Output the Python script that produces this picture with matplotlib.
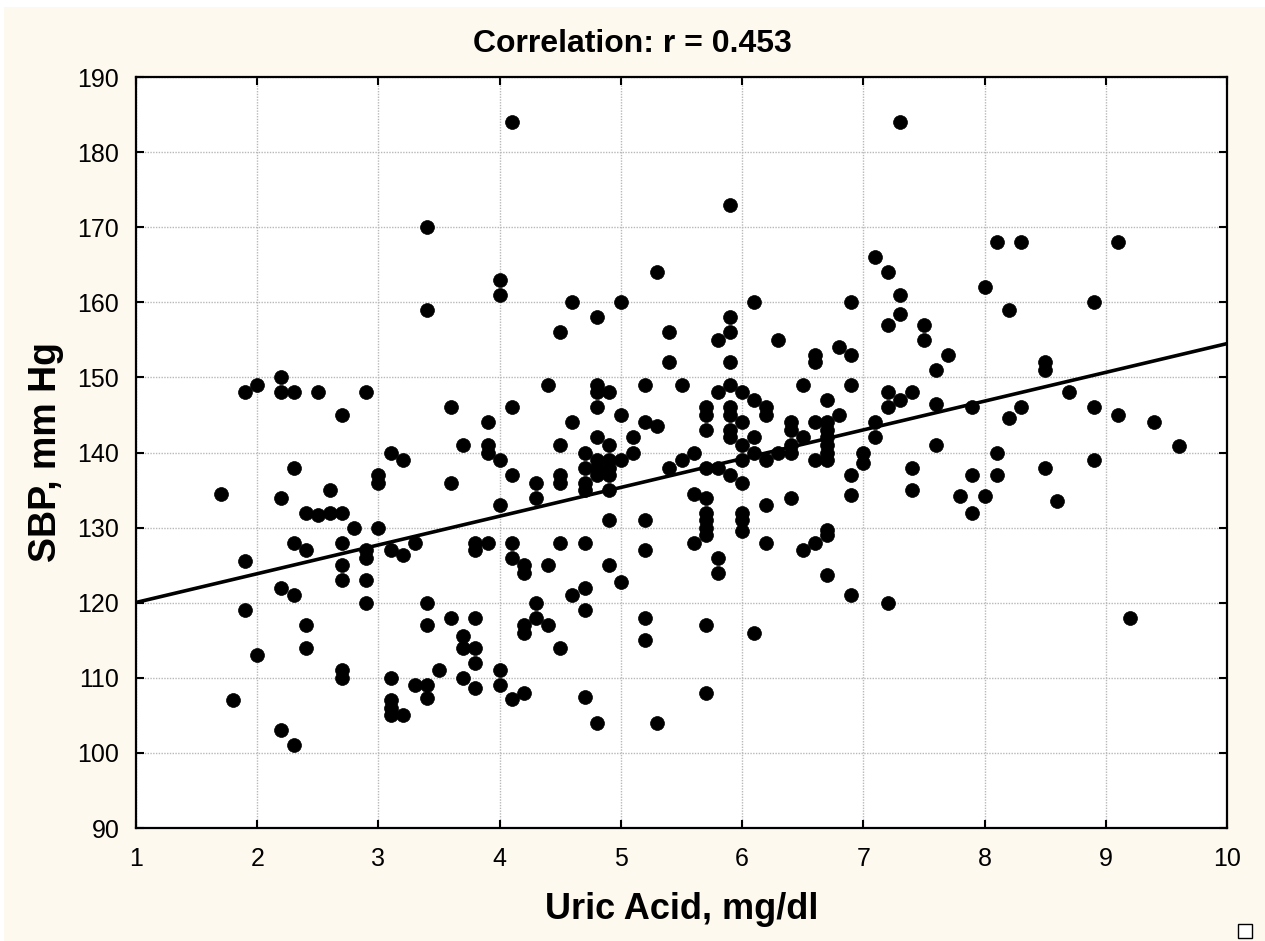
import matplotlib
matplotlib.use("Agg")
import matplotlib.pyplot as plt
from matplotlib.patches import Rectangle
import numpy as np

# ---- data ----
uric_acid = [
    1.7, 1.8,
    1.9, 1.9, 1.9,
    2.0, 2.0,
    2.2, 2.2, 2.2, 2.2, 2.2,
    2.3, 2.3, 2.3, 2.3, 2.3,
    2.4, 2.4, 2.4, 2.4,
    2.5, 2.5,
    2.6, 2.6,
    2.7, 2.7, 2.7, 2.7, 2.7, 2.7, 2.7,
    2.8,
    2.9, 2.9, 2.9, 2.9, 2.9,
    3.0, 3.0, 3.0,
    3.1, 3.1, 3.1, 3.1, 3.1, 3.1,
    3.2, 3.2, 3.2,
    3.3, 3.3,
    3.4, 3.4, 3.4, 3.4, 3.4, 3.4,
    3.5,
    3.6, 3.6, 3.6,
    3.7, 3.7, 3.7, 3.7,
    3.8, 3.8, 3.8, 3.8, 3.8, 3.8,
    3.9, 3.9, 3.9, 3.9,
    4.0, 4.0, 4.0, 4.0, 4.0, 4.0,
    4.1, 4.1, 4.1, 4.1, 4.1, 4.1,
    4.2, 4.2, 4.2, 4.2, 4.2,
    4.3, 4.3, 4.3, 4.3,
    4.4, 4.4, 4.4,
    4.5, 4.5, 4.5, 4.5, 4.5, 4.5,
    4.6, 4.6, 4.6,
    4.7, 4.7, 4.7, 4.7, 4.7, 4.7, 4.7, 4.7,
    4.8, 4.8, 4.8, 4.8, 4.8, 4.8, 4.8, 4.8, 4.8,
    4.9, 4.9, 4.9, 4.9, 4.9, 4.9, 4.9, 4.9,
    5.0, 5.0, 5.0, 5.0,
    5.1, 5.1,
    5.2, 5.2, 5.2, 5.2, 5.2, 5.2,
    5.3, 5.3, 5.3,
    5.4, 5.4, 5.4,
    5.5, 5.5,
    5.6, 5.6, 5.6,
    5.7, 5.7, 5.7, 5.7, 5.7, 5.7, 5.7, 5.7, 5.7, 5.7, 5.7,
    5.8, 5.8, 5.8, 5.8, 5.8,
    5.9, 5.9, 5.9, 5.9, 5.9, 5.9, 5.9, 5.9, 5.9, 5.9,
    6.0, 6.0, 6.0, 6.0, 6.0, 6.0, 6.0, 6.0,
    6.1, 6.1, 6.1, 6.1, 6.1,
    6.2, 6.2, 6.2, 6.2, 6.2,
    6.3, 6.3,
    6.4, 6.4, 6.4, 6.4, 6.4,
    6.5, 6.5, 6.5,
    6.6, 6.6, 6.6, 6.6, 6.6,
    6.7, 6.7, 6.7, 6.7, 6.7, 6.7, 6.7, 6.7, 6.7, 6.7,
    6.8, 6.8,
    6.9, 6.9, 6.9, 6.9, 6.9, 6.9,
    7.0, 7.0,
    7.1, 7.1, 7.1,
    7.2, 7.2, 7.2, 7.2, 7.2,
    7.3, 7.3, 7.3, 7.3,
    7.4, 7.4, 7.4,
    7.5, 7.5,
    7.6, 7.6, 7.6,
    7.7,
    7.8,
    7.9, 7.9, 7.9,
    8.0, 8.0,
    8.1, 8.1, 8.1,
    8.2, 8.2,
    8.3, 8.3,
    8.5, 8.5, 8.5,
    8.6,
    8.7,
    8.9, 8.9, 8.9,
    9.1, 9.1,
    9.2,
    9.4,
    9.6,
]

sbp = [
    134.5, 107,
    148, 125.5, 119,
    149, 113,
    150, 148, 134, 122, 103,
    148, 138, 128, 121, 101,
    132, 127, 117, 114,
    148, 131.7,
    135, 132,
    145, 132, 128, 125, 123, 111, 110,
    130,
    148, 127, 126, 123, 120,
    137, 136, 130,
    140, 127, 110, 107, 106, 105,
    139, 126.3, 105,
    128, 109,
    170, 159, 120, 117, 109, 107.3,
    111,
    146, 136, 118,
    141, 115.5, 114, 110,
    128, 127, 118, 114, 112, 108.6,
    144, 141, 140, 128,
    163, 161, 139, 133, 111, 109,
    184, 146, 137, 128, 126, 107.2,
    125, 124, 117, 116, 108,
    136, 134, 120, 118,
    149, 125, 117,
    156, 141, 137, 136, 128, 114,
    160, 144, 121,
    140, 138, 136, 135, 128, 122, 119, 107.4,
    158, 149, 148, 146, 142, 139, 138, 137, 104,
    148, 141, 139, 138, 137, 135, 131, 125,
    160, 145, 139, 122.7,
    142, 140,
    149, 144, 131, 127, 118, 115,
    164, 143.5, 104,
    156, 152, 138,
    149, 139,
    140, 134.5, 128,
    146, 145, 143, 138, 134, 132, 131, 130, 129, 117, 108,
    155, 148, 138, 126, 124,
    173, 158, 156, 152, 149, 146, 145, 143, 142, 137,
    148, 144, 141, 139, 136, 132, 131, 129.5,
    160, 147, 142, 140, 116,
    146, 145, 139, 133, 128,
    155, 140,
    144, 143, 141, 140, 134,
    149, 142, 127,
    153, 152, 144, 139, 128,
    147, 144, 143, 142, 141, 140, 139, 129.7, 129, 123.7,
    154, 145,
    160, 153, 149, 137, 134.4, 121,
    140, 138.6,
    166, 144, 142,
    164, 157, 148, 146, 120,
    184, 161, 158.5, 147,
    148, 138, 135,
    157, 155,
    151, 146.5, 141,
    153,
    134.2,
    146, 137, 132,
    162, 134.2,
    168, 140, 137,
    159, 144.6,
    168, 146,
    152, 151, 138,
    133.6,
    148,
    160, 146, 139,
    168, 145,
    118,
    144,
    140.8,
]

fit_line = [116.2, 3.83]          # intercept, slope of the regression line
x_ticks = [1, 2, 3, 4, 5, 6, 7, 8, 9, 10]
y_ticks = [90, 100, 110, 120, 130, 140, 150, 160, 170, 180, 190]
title_text = "Correlation: r = 0.453"
x_label = "Uric Acid, mg/dl"
y_label = "SBP, mm Hg"

# ---- figure ----
W, H = 1265, 941
fig = plt.figure(figsize=(W / 100, H / 100), dpi=100)
fig.patch.set_facecolor("#FDF9EE")
# thin white borders at the top and left like the reference
fig.patches.append(Rectangle((0, 1 - 7 / H), 1, 7 / H, transform=fig.transFigure,
                             facecolor="white", edgecolor="none", zorder=0))
fig.patches.append(Rectangle((0, 0), 4 / W, 1, transform=fig.transFigure,
                             facecolor="white", edgecolor="none", zorder=0))

ax = fig.add_axes([136 / W, 1 - 828 / H, (1227 - 136) / W, (828 - 77) / H])
ax.set_facecolor("white")

font = ["Liberation Sans", "DejaVu Sans"]

ax.scatter(uric_acid, sbp, s=100, color="black", edgecolors="black",
           linewidths=0.5, zorder=3)

xs = np.array([x_ticks[0], x_ticks[-1]], dtype=float)
ax.plot(xs, fit_line[0] + fit_line[1] * xs, color="black", lw=2.6, zorder=4)

ax.set_xlim(x_ticks[0], x_ticks[-1])
ax.set_ylim(y_ticks[0], y_ticks[-1])
ax.set_xticks(x_ticks)
ax.set_yticks(y_ticks)
ax.set_xticklabels([str(t) for t in x_ticks], family=font, fontsize=18)
ax.set_yticklabels([str(t) for t in y_ticks], family=font, fontsize=18)
ax.tick_params(direction="in", length=6, width=1.5, top=True, right=True,
               colors="black")
ax.tick_params(axis="x", pad=14)
ax.tick_params(axis="y", pad=12)

ax.grid(True, color="#B8B8B8", linestyle=(0, (1, 1)), linewidth=1.0, zorder=0)
ax.set_axisbelow(True)
for sp in ax.spines.values():
    sp.set_linewidth(1.6)
    sp.set_color("black")

fig.text(632 / W, 1 - 44 / H, title_text, ha="center", va="center",
         fontsize=23, fontweight="bold", family=font)
ax.set_xlabel(x_label, fontsize=26, fontweight="bold", family=font, labelpad=15)
ax.set_ylabel(y_label, fontsize=27, fontweight="bold", family=font, labelpad=10)

# small square marker at bottom right
fig.patches.append(Rectangle((1238 / W, 1 - 938 / H), 14 / W, 14 / H,
                             transform=fig.transFigure, facecolor="white",
                             edgecolor="black", linewidth=1.0))

fig.savefig("out.png", dpi=100, facecolor=fig.get_facecolor())
